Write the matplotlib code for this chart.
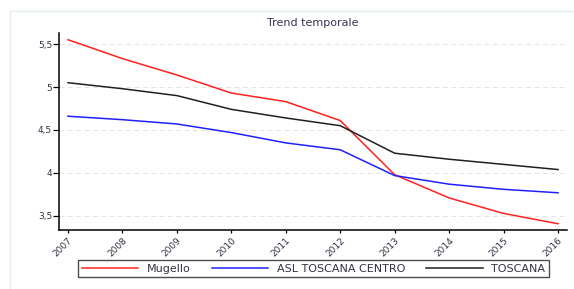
import matplotlib
matplotlib.use("Agg")
import matplotlib.pyplot as plt
from matplotlib.patches import Rectangle

plt.rcParams['font.family'] = ['DejaVu Sans']

years = [2007, 2008, 2009, 2010, 2011, 2012, 2013, 2014, 2015, 2016]
mugello = [5.55, 5.33, 5.14, 4.93, 4.83, 4.61, 3.98, 3.71, 3.53, 3.41]
asl = [4.66, 4.62, 4.57, 4.47, 4.35, 4.27, 3.97, 3.87, 3.81, 3.77]
toscana = [5.05, 4.98, 4.90, 4.74, 4.64, 4.55, 4.23, 4.16, 4.10, 4.04]
yticks = [3.5, 4, 4.5, 5, 5.5]
ytick_labels = ["3,5", "4", "4,5", "5", "5,5"]

fig = plt.figure(figsize=(5.74, 2.89), dpi=100)
fig.patches.append(Rectangle((10/574, -0.1), 1.2, 1 - 11/289 + 0.1, transform=fig.transFigure,
                             fill=False, edgecolor='#e3ecf0', linewidth=1.0))
ax = fig.add_axes([59/574, 1 - 230/289, (567 - 59)/574, (230 - 33)/289])

ax.plot(years, mugello, color='#ff2020', lw=1.1, label='Mugello')
ax.plot(years, asl, color='#2020ff', lw=1.1, label='ASL TOSCANA CENTRO')
ax.plot(years, toscana, color='#202020', lw=1.1, label='TOSCANA')

ax.set_xlim(2006.835, 2016.165)
ax.set_ylim(3.337, 5.628)
ax.set_yticks(yticks)
ax.set_yticklabels(ytick_labels, fontsize=6.5, color='#333344')
ax.set_xticks(years)
ax.set_xticklabels([str(y) for y in years], rotation=45, fontsize=6.5, ha='right',
                   rotation_mode='anchor', color='#333344')
ax.tick_params(axis='y', length=4, width=0.9, pad=1)
ax.tick_params(axis='x', length=2.5, width=0.9, pad=1.5)
ax.yaxis.grid(True, linestyle=(0, (6, 4)), color='#e0e0e0', linewidth=0.6)
ax.set_axisbelow(True)
for s in ['top', 'right']:
    ax.spines[s].set_visible(False)
ax.spines['left'].set_linewidth(1.1)
ax.spines['bottom'].set_linewidth(1.1)
ax.set_title('Trend temporale', fontsize=8, color='#333355', pad=5)

leg = fig.legend(loc='center', bbox_to_anchor=(313.5/574, 1 - 268.5/289), ncol=3, fontsize=8,
                 frameon=True, fancybox=False, edgecolor='#222222', handlelength=5.1,
                 columnspacing=1.9, borderpad=0.35, handletextpad=0.75, borderaxespad=0)
leg.get_frame().set_linewidth(1.0)
for t in leg.get_texts():
    t.set_color('#333344')

fig.savefig('out.png', dpi=100)
